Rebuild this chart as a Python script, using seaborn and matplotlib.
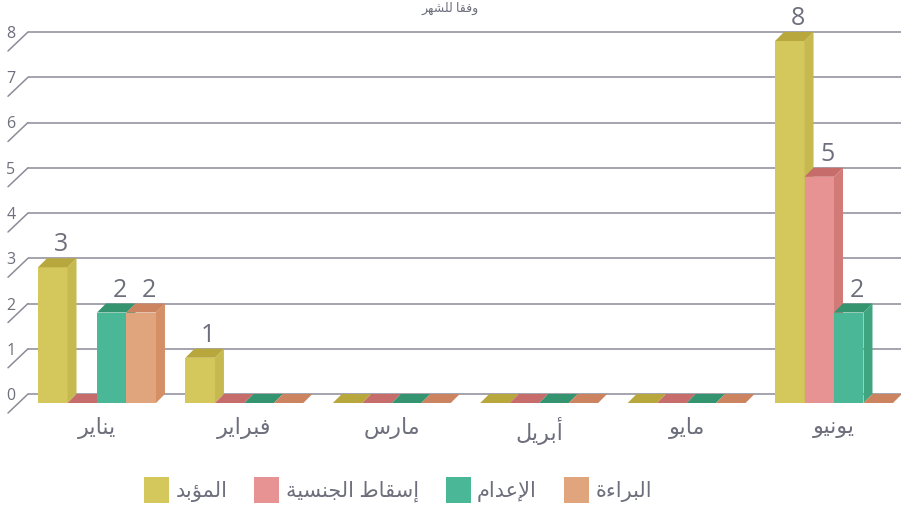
import numpy as np
import pandas as pd
import matplotlib
matplotlib.use("Agg")
import matplotlib.pyplot as plt
from matplotlib.patches import Polygon, Patch
import seaborn as sns

# ---------------- data ----------------
months = ["يناير", "فبراير", "مارس", "أبريل", "مايو", "يونيو"]
series = ["المؤبد", "إسقاط الجنسية", "الإعدام", "البراءة"]
life = [3, 1, 0, 0, 0, 8]
denat = [0, 0, 0, 0, 0, 5]
death = [2, 0, 0, 0, 0, 2]
acquit = [2, 0, 0, 0, 0, 0]
yticks = [0, 1, 2, 3, 4, 5, 6, 7, 8]
title = "وفقا للشهر"

front_cols = ["#D4C75C", "#E79393", "#4AB896", "#E0A57D"]
side_cols = ["#C5B950", "#D27A78", "#3FA580", "#D48F67"]
top_cols = ["#B8A73C", "#C66C6A", "#349470", "#CC8460"]

# ---------------- minimal Arabic shaping ----------------
FORMS = {
    'ء': ('\uFE80', None, None, None),
    'أ': ('\uFE83', '\uFE84', None, None),
    'ؤ': ('\uFE85', '\uFE86', None, None),
    'إ': ('\uFE87', '\uFE88', None, None),
    'ا': ('\uFE8D', '\uFE8E', None, None),
    'ب': ('\uFE8F', '\uFE90', '\uFE91', '\uFE92'),
    'ة': ('\uFE93', '\uFE94', None, None),
    'ج': ('\uFE9D', '\uFE9E', '\uFE9F', '\uFEA0'),
    'د': ('\uFEA9', '\uFEAA', None, None),
    'ر': ('\uFEAD', '\uFEAE', None, None),
    'س': ('\uFEB1', '\uFEB2', '\uFEB3', '\uFEB4'),
    'ش': ('\uFEB5', '\uFEB6', '\uFEB7', '\uFEB8'),
    'ط': ('\uFEC1', '\uFEC2', '\uFEC3', '\uFEC4'),
    'ع': ('\uFEC9', '\uFECA', '\uFECB', '\uFECC'),
    'ف': ('\uFED1', '\uFED2', '\uFED3', '\uFED4'),
    'ق': ('\uFED5', '\uFED6', '\uFED7', '\uFED8'),
    'ل': ('\uFEDD', '\uFEDE', '\uFEDF', '\uFEE0'),
    'م': ('\uFEE1', '\uFEE2', '\uFEE3', '\uFEE4'),
    'ن': ('\uFEE5', '\uFEE6', '\uFEE7', '\uFEE8'),
    'ه': ('\uFEE9', '\uFEEA', '\uFEEB', '\uFEEC'),
    'و': ('\uFEED', '\uFEEE', None, None),
    'ي': ('\uFEF1', '\uFEF2', '\uFEF3', '\uFEF4'),
}
LAMALEF = {'ا': ('\uFEFB', '\uFEFC'), 'أ': ('\uFEF7', '\uFEF8'),
           'إ': ('\uFEF9', '\uFEFA'), 'آ': ('\uFEF5', '\uFEF6')}


def _dual(c):
    return c != 'LA' and c in FORMS and FORMS[c][2] is not None


def _accepts_prev(c):
    return c == 'LA' or (c in FORMS and FORMS[c][1] is not None)


def shape(text):
    words = []
    for w in text.split(' '):
        seq = []
        i = 0
        while i < len(w):
            c = w[i]
            if c == 'ل' and i + 1 < len(w) and w[i + 1] in LAMALEF:
                seq.append(('LA', w[i + 1]))
                i += 2
            else:
                seq.append((c, None))
                i += 1
        out = []
        for k, (c, a) in enumerate(seq):
            prev = seq[k - 1][0] if k > 0 else None
            nxt = seq[k + 1][0] if k + 1 < len(seq) else None
            jp = prev is not None and _dual(prev) and _accepts_prev(c)
            if c == 'LA':
                iso, fin = LAMALEF[a]
                out.append(fin if jp else iso)
                continue
            if c not in FORMS:
                out.append(c)
                continue
            f = FORMS[c]
            jn = f[2] is not None and nxt is not None and _accepts_prev(nxt)
            if jp and jn:
                out.append(f[3])
            elif jp:
                out.append(f[1])
            elif jn:
                out.append(f[2])
            else:
                out.append(f[0])
        words.append(''.join(out))
    return ' '.join(words)[::-1]


# ---------------- style ----------------
sns.set_theme(style="white")
plt.rcParams['font.family'] = ['Open Sans', 'DejaVu Sans']
TXT = "#6E6F7C"
GRID = "#8C8C99"

W, H = 901, 509
fig = plt.figure(figsize=(W / 100, H / 100), dpi=100)

# layout in pixels
ax_left, ax_right = 28, 901
ax_top, ax_floor = 20, 403
ppu_y = 45.25          # pixels per value unit
ppu_x = 147.4          # pixels per category
cat0_px = 97
depth_px = 9

ax = fig.add_axes([ax_left / W, (H - ax_floor) / H,
                   (ax_right - ax_left) / W, (ax_floor - ax_top) / H])

df = pd.DataFrame({
    "month": np.repeat(months, len(series)),
    "series": series * len(months),
    "value": np.array([life, denat, death, acquit]).T.ravel(),
})

sns.barplot(data=df, x="month", y="value", hue="series", order=months,
            hue_order=series, palette=front_cols, width=0.8, ax=ax,
            saturation=1, legend=False, linewidth=0)

x0 = -(cat0_px - ax_left) / ppu_x
x1 = x0 + (ax_right - ax_left) / ppu_x
ax.set_xlim(x0, x1)
ax.set_ylim(0, (ax_floor - ax_top) / ppu_y)
dx = depth_px / ppu_x
dy = depth_px / ppu_y

for s in ax.spines.values():
    s.set_visible(False)

# 3D faces built from the seaborn bars
bars = list(ax.patches)
vals = [life, denat, death, acquit]
for j, sname in enumerate(series):
    for i in range(len(months)):
        p = bars[j * len(months) + i]
        x = p.get_x()
        w = p.get_width()
        h = p.get_height()
        z = 3 + j * 0.3
        p.set_zorder(z)
        p.set_facecolor(front_cols[j])
        if h > 0:
            side = Polygon([(x + w, 0), (x + w + dx, dy), (x + w + dx, h + dy), (x + w, h)],
                           closed=True, facecolor=side_cols[j], edgecolor='none', zorder=z + 0.1)
            ax.add_patch(side)
        top = Polygon([(x, h), (x + w, h), (x + w + dx, h + dy), (x + dx, h + dy)],
                      closed=True, facecolor=top_cols[j], edgecolor='none', zorder=z + 0.2)
        ax.add_patch(top)
        if vals[j][i] > 0:
            ax.annotate(str(vals[j][i]), (x + w / 2 + dx / 2, h + dy),
                        xytext=(2.5, 5), textcoords="offset points",
                        ha="center", va="baseline", fontsize=18, color=TXT,
                        zorder=10)

# back-wall gridlines with diagonal floor ticks
ax.set_yticks([v + dy for v in yticks])
ax.set_yticklabels([str(v) for v in yticks])
ax.tick_params(axis='y', length=0, pad=9, labelsize=11.5, labelcolor=TXT)
ax.yaxis.grid(True, color=GRID, linewidth=1.1)
ax.set_axisbelow(True)
ddx = 20 / ppu_x
ddy = 19 / ppu_y
for v in yticks:
    ax.plot([x0, x0 - ddx], [v + dy, v + dy - ddy], color=GRID, linewidth=1.1,
            clip_on=False, zorder=1)

ax.set_xticks(range(len(months)))
ax.set_xticklabels([shape(m) for m in months])
ax.tick_params(axis='x', length=0, pad=10, labelsize=16, labelcolor=TXT)
ax.set_xlabel("")
ax.set_ylabel("")

# legend
handles = [Patch(facecolor=c, edgecolor='none') for c in front_cols]
fig.legend(handles, [shape(s) for s in series], loc="center", ncol=4,
           bbox_to_anchor=(398 / W, (H - 490) / H), frameon=False,
           fontsize=15, handlelength=1.2, handleheight=1.6, handletextpad=0.3,
           columnspacing=1.3, labelcolor=TXT)

# small title at the very top
fig.text(0.5, 1.0 - 8 / H, shape(title), ha="center", va="center",
         fontsize=9, color=TXT)

fig.savefig("out.png", dpi=100, facecolor="white")
